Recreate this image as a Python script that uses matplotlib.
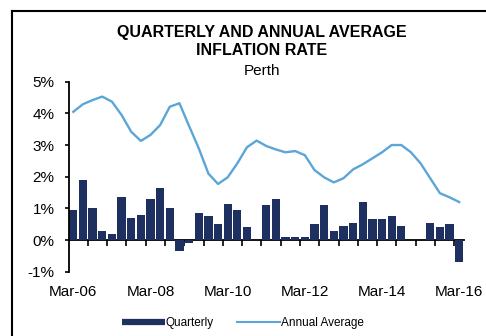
import numpy as np
import matplotlib
matplotlib.use('Agg')
import matplotlib.pyplot as plt
from matplotlib.lines import Line2D

plt.rcParams['font.family'] = 'Liberation Sans'

# quarterly CPI change, Mar-06 .. Mar-16 (%)
quarterly = [0.95, 1.9, 1.0, 0.3, 0.2, 1.35, 0.7, 0.8, 1.3, 1.65, 1.0,
             -0.35, -0.1, 0.85, 0.75, 0.5, 1.15, 0.95, 0.4, 0.0, 1.1,
             1.3, 0.1, 0.1, 0.1, 0.5, 1.1, 0.3, 0.45, 0.55, 1.2,
             0.65, 0.65, 0.75, 0.45, 0.0, 0.0, 0.55, 0.4, 0.5, -0.7]
# annual average inflation (%)
annual = [4.05, 4.29, 4.42, 4.53, 4.37, 3.95, 3.42, 3.13, 3.32, 3.63, 4.21,
          4.32, 3.6, 2.9, 2.1, 1.77, 1.98, 2.42, 2.93, 3.14, 2.97,
          2.86, 2.77, 2.81, 2.68, 2.21, 1.98, 1.82, 1.95, 2.23, 2.39,
          2.58, 2.77, 3.0, 3.0, 2.77, 2.42, 1.95, 1.48, 1.35, 1.2]
tick_labels = ['Mar-06', 'Mar-08', 'Mar-10', 'Mar-12', 'Mar-14', 'Mar-16']
y_ticks = [-1, 0, 1, 2, 3, 4, 5]
y_labels = ['-1%', '0%', '1%', '2%', '3%', '4%', '5%']

BAR_COLOR = '#1d3060'
LINE_COLOR = '#5ba6d6'

W, H = 486, 336
fig = plt.figure(figsize=(W / 100, H / 100), dpi=100)
ax = fig.add_axes([68.5 / W, 64.3 / H, (464 - 68.5) / W, 190 / H])

x = np.arange(len(quarterly))
ax.bar(x, quarterly, width=0.86, color=BAR_COLOR, zorder=2)
ax.plot(x, annual, color=LINE_COLOR, lw=1.7, zorder=3)

ax.set_xlim(-0.5, len(quarterly) - 0.5)
ax.set_ylim(-1, 5)
ax.set_yticks(y_ticks)
ax.set_yticklabels(y_labels)
ax.set_xticks(x[::8])
ax.set_xticklabels(tick_labels)
ax.tick_params(axis='x', length=0, pad=9.5, labelsize=11)
ax.tick_params(axis='y', direction='out', length=3, width=1.2, pad=7, labelsize=11)

for s in ['top', 'right', 'bottom']:
    ax.spines[s].set_visible(False)
ax.spines['left'].set_linewidth(1.3)

# zero line with tick marks between every second category
zero_pos = (0 - y_ticks[0]) / (y_ticks[-1] - y_ticks[0])
sec = ax.secondary_xaxis(zero_pos)
sec.set_xticks(np.arange(1.5, len(quarterly) - 1, 2))
sec.set_xticklabels([])
sec.tick_params(axis='x', direction='out', length=4, width=1.2)
sec.spines['bottom'].set_linewidth(1.3)
sec.spines['top'].set_linewidth(1.3)

# titles
fig.text(262 / W, 1 - 37 / H, 'QUARTERLY AND ANNUAL AVERAGE', ha='center',
         va='baseline', fontsize=11.5, fontweight='bold')
fig.text(262 / W, 1 - 55 / H, 'INFLATION RATE', ha='center',
         va='baseline', fontsize=11.5, fontweight='bold')
fig.text(262 / W, 1 - 75 / H, 'Perth', ha='center', va='baseline', fontsize=11)

handles = [Line2D([], [], color=BAR_COLOR, lw=4.5, solid_capstyle='butt'),
           Line2D([], [], color=LINE_COLOR, lw=1.5)]
fig.legend(handles, ['Quarterly', 'Annual Average'], loc='center',
           bbox_to_anchor=(243 / W, 13 / H), ncol=2, frameon=False,
           fontsize=8.5, handlelength=3.6, handletextpad=0.1,
           columnspacing=2.0)

# outer chart frame (cropped at right and bottom)
fig.add_artist(Line2D([11.5 / W, 11.5 / W], [0, 1 - 11 / H],
                      transform=fig.transFigure, color='black', lw=1.5))
fig.add_artist(Line2D([11.5 / W, 1], [1 - 11 / H, 1 - 11 / H],
                      transform=fig.transFigure, color='black', lw=1.5))

fig.savefig('out.png', dpi=100)
